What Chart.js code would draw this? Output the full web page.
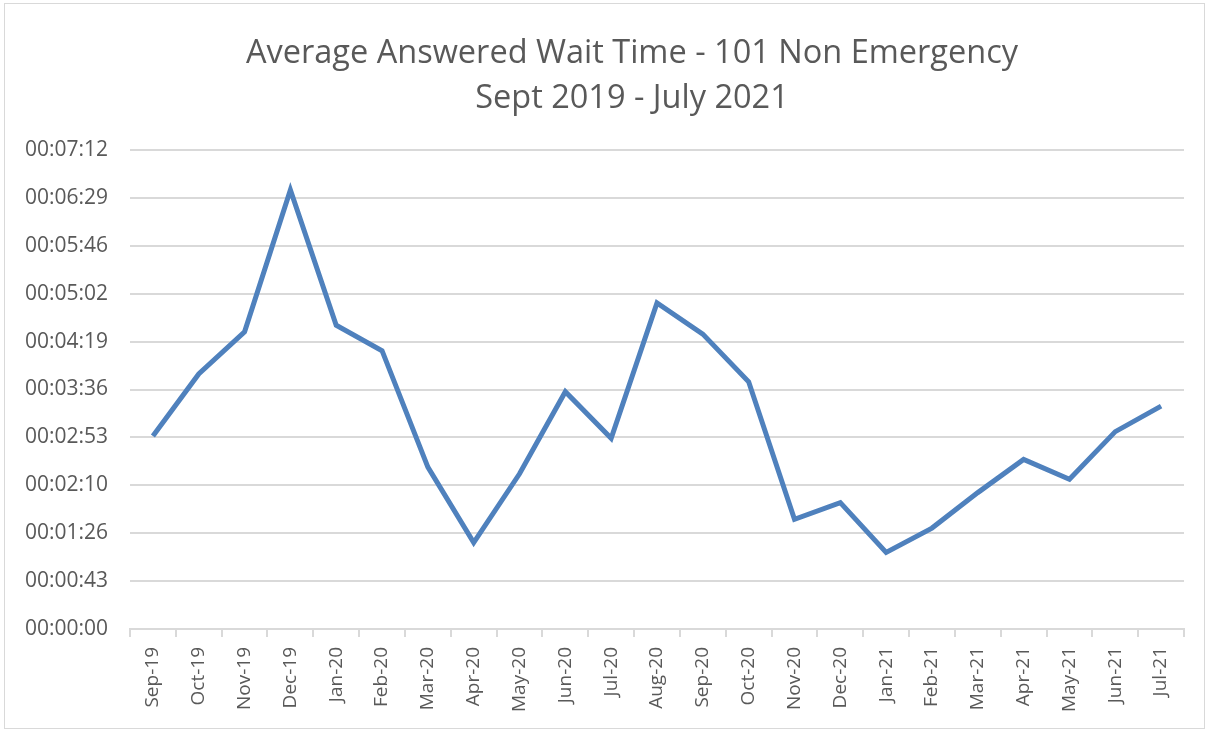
<!DOCTYPE html>
<html>
<head>
<meta charset="utf-8">
<script src="https://cdn.jsdelivr.net/npm/chart.js@4.4.1/dist/chart.umd.min.js"></script>
<style>
  html, body { margin: 0; padding: 0; background: #fff; }
  .box { position: relative; width: 1209px; height: 731px; }
  .frame { position: absolute; left: 4px; top: 3px; width: 1201px; height: 726px;
           border: 1px solid #d9d9d9; box-sizing: border-box; pointer-events: none; }
  .title { position: absolute; left: 632px; top: 28px; transform: translateX(-50%);
           white-space: nowrap; text-align: center; color: #595959;
           font: 32.5px/45px 'Open Sans', 'Noto Sans', sans-serif; }
  canvas { position: absolute; left: 0; top: 0; }
</style>
</head>
<body>
<div class="box">
  <canvas id="chart" width="1209" height="731"></canvas>
  <div class="title" id="title"></div>
  <div class="frame"></div>
</div>
<script>
// months on the x axis
const months = ['Sep-19','Oct-19','Nov-19','Dec-19','Jan-20','Feb-20','Mar-20','Apr-20',
  'May-20','Jun-20','Jul-20','Aug-20','Sep-20','Oct-20','Nov-20','Dec-20','Jan-21',
  'Feb-21','Mar-21','Apr-21','May-21','Jun-21','Jul-21'];

// average answered wait time, in seconds
const waitSeconds = [174, 230, 268, 396, 274, 251, 146, 78, 140, 214, 172, 294,
  266, 223, 99, 114, 69, 91, 123, 153, 135, 178, 201];

// Excel-style time axis: 0.0005 day steps (43.2 s)
const yTickSeconds = [0, 43.2, 86.4, 129.6, 172.8, 216, 259.2, 302.4, 345.6, 388.8, 432];
const yTickLabels = ['00:00:00','00:00:43','00:01:26','00:02:10','00:02:53','00:03:36',
  '00:04:19','00:05:02','00:05:46','00:06:29','00:07:12'];

const titleLines = ['Average Answered Wait Time - 101 Non Emergency', 'Sept 2019 - July 2021'];

// title sits off-centre in the original, so it is plain HTML text
const titleEl = document.getElementById('title');
titleLines.forEach(t => {
  const d = document.createElement('div');
  d.textContent = t;
  titleEl.appendChild(d);
});

const FONT = "'Open Sans', 'Noto Sans', sans-serif";
const TXT = '#595959';
const GRID = '#d9d9d9';

const ctx = document.getElementById('chart').getContext('2d');
new Chart(ctx, {
  type: 'line',
  data: {
    labels: months,
    datasets: [{
      data: waitSeconds,
      borderColor: '#4f81bd',
      borderWidth: 5,
      pointRadius: 0,
      tension: 0,
      fill: false
    }]
  },
  options: {
    responsive: false,
    animation: false,
    layout: { padding: { top: 150, left: 0, right: 25, bottom: 10 } },
    plugins: {
      legend: { display: false },
      tooltip: { enabled: false },
      title: { display: false }
    },
    scales: {
      x: {
        offset: true,
        grid: { offset: true, drawOnChartArea: false, color: GRID, lineWidth: 2, tickLength: 8 },
        border: { display: true, color: GRID, width: 2 },
        ticks: {
          color: TXT, font: { family: FONT, size: 19 },
          minRotation: 90, maxRotation: 90, autoSkip: false, padding: 10
        },
        afterFit: (axis) => { axis.height = 92; }
      },
      y: {
        min: 0,
        max: 432,
        border: { display: false },
        grid: { color: GRID, lineWidth: 2, drawTicks: false },
        ticks: {
          color: TXT, font: { family: FONT, size: 21 }, padding: 22,
          callback: (v, i) => yTickLabels[i]
        },
        afterBuildTicks: (axis) => { axis.ticks = yTickSeconds.map(v => ({ value: v })); },
        afterFit: (axis) => { axis.width = 130; }
      }
    }
  }
});
</script>
</body>
</html>
